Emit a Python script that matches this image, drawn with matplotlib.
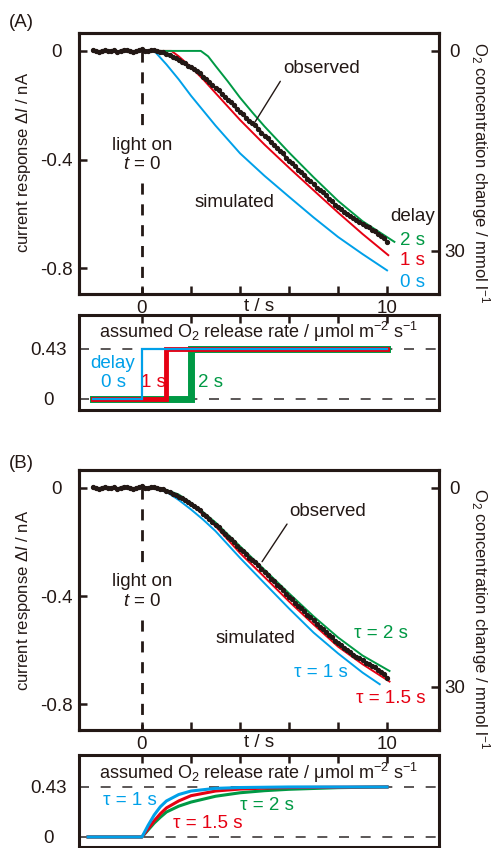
import numpy as np
import matplotlib
matplotlib.use('Agg')
import matplotlib.pyplot as plt

plt.rcParams['font.family'] = ['Liberation Sans', 'DejaVu Sans']
plt.rcParams['mathtext.fontset'] = 'custom'
plt.rcParams['mathtext.rm'] = 'Liberation Sans'
plt.rcParams['mathtext.it'] = 'Liberation Sans:italic'
plt.rcParams['axes.unicode_minus'] = False

DARK = '#231815'
BLUE = '#00a0e9'
RED = '#e60012'
GREEN = '#009944'
FS = 13.5
FSL = 12

###########################################################
# observed current (same record in both panels), nA, every 0.125 s
t_obs = np.arange(-2.0, 10.001, 0.125)
i_obs = [0.002, -0.002, -0.004, 0.001, 0.003, -0.001, 0.000, 0.002,
         -0.003, 0.000, 0.004, 0.002, 0.001, -0.003, -0.002, 0.003,
         0.006, 0.001, -0.001, 0.003, 0.002, -0.001, -0.003, -0.005,
         -0.010, -0.014, -0.022, -0.027, -0.035, -0.039, -0.046, -0.054,
         -0.058, -0.068, -0.075, -0.083, -0.095, -0.103, -0.114, -0.127,
         -0.136, -0.145, -0.158, -0.171, -0.180, -0.188, -0.200, -0.215,
         -0.226, -0.234, -0.246, -0.258, -0.265, -0.274, -0.287, -0.301,
         -0.312, -0.322, -0.336, -0.345, -0.358, -0.368, -0.377, -0.393,
         -0.404, -0.412, -0.425, -0.437, -0.444, -0.456, -0.470, -0.478,
         -0.490, -0.503, -0.513, -0.520, -0.532, -0.545, -0.553, -0.566,
         -0.575, -0.582, -0.593, -0.601, -0.606, -0.617, -0.624, -0.629,
         -0.638, -0.646, -0.650, -0.659, -0.664, -0.675, -0.681, -0.690,
         -0.702]

# (A) simulated, step release with delay
tA_d0 = [0, 0.5, 1.0, 1.5, 2, 3, 4, 5, 6, 7, 8, 9, 10]
iA_d0 = [0, 0, -0.05, -0.105, -0.165, -0.275, -0.377, -0.46, -0.537, -0.613, -0.685, -0.748, -0.808]
tA_d1 = [0, 1.2, 1.5, 2, 2.5, 3, 4, 5, 6, 7, 8, 9, 10.05]
iA_d1 = [0, 0, -0.02, -0.06, -0.105, -0.155, -0.254, -0.345, -0.43, -0.513, -0.595, -0.674, -0.752]
tA_d2 = [0, 2.4, 2.7, 3, 3.5, 4, 4.5, 5, 6, 7, 8, 9, 10.3]
iA_d2 = [0, 0, -0.02, -0.055, -0.112, -0.172, -0.226, -0.278, -0.374, -0.465, -0.552, -0.627, -0.703]

# (A) assumed release rate steps
step_t0 = [-2, 0, 0, 10]
step_t1 = [-2, 1, 1, 10]
step_t2 = [-2, 2, 2, 10]
step_v = [0, 0, 0.43, 0.43]

# (B) simulated, exponential rise of release
tB = [0, 0.5, 1, 1.5, 2, 2.5, 3, 4, 5, 6, 7, 8, 9]
iB_tau1 = [0, -0.003, -0.015, -0.045, -0.08, -0.118, -0.16, -0.259, -0.353, -0.446, -0.535, -0.612, -0.683]
iB_tau15 = [0, -0.002, -0.01, -0.03, -0.06, -0.1, -0.142, -0.241, -0.33, -0.42, -0.505, -0.587, -0.652]
iB_tau2 = [0, -0.001, -0.008, -0.025, -0.055, -0.09, -0.128, -0.216, -0.303, -0.39, -0.475, -0.553, -0.62]
tB_end = [9.7, 10.1, 10.1]
iB_end = [-0.726, -0.716, -0.677]

# (B) assumed release rate
tr_1 = [-2.2, 0, 0.25, 0.5, 0.75, 1, 1.5, 2, 3, 4, 6, 10]
r_tau1 = [0, 0, 0.1, 0.19, 0.26, 0.31, 0.365, 0.395, 0.418, 0.425, 0.43, 0.43]
tr_2 = [-2.2, 0, 0.25, 0.5, 0.75, 1, 1.5, 2, 3, 4, 5, 6, 8, 10]
r_tau15 = [0, 0, 0.07, 0.14, 0.2, 0.25, 0.31, 0.355, 0.395, 0.412, 0.42, 0.425, 0.428, 0.43]
r_tau2 = [0, 0, 0.06, 0.12, 0.17, 0.215, 0.265, 0.3, 0.35, 0.38, 0.398, 0.41, 0.424, 0.43]

xticks = [0, 2, 4, 6, 8, 10]
xticklabels = ['0', '', '', '', '', '10']
###########################################################

fig = plt.figure(figsize=(4.95, 8.48), dpi=100)
L, W = 0.1596, 0.7273
axA = fig.add_axes([L, 0.6533, W, 0.3078])
axAs = fig.add_axes([L, 0.5165, W, 0.112])
axB = fig.add_axes([L, 0.1392, W, 0.3066])
axBs = fig.add_axes([L, 0.0012, W, 0.1085])


def style_main(ax):
    ax.set_xlim(-2.57, 12.12)
    ax.set_ylim(-0.895, 0.066)
    for s in ax.spines.values():
        s.set_linewidth(2.2)
        s.set_color(DARK)
    ax.set_xticks(xticks)
    ax.set_xticklabels(xticklabels)
    ax.set_yticks([0, -0.4, -0.8])
    ax.set_yticklabels(['0', '-0.4', '-0.8'])
    ax.tick_params(direction='in', length=6, width=1.8, color=DARK,
                   labelsize=FS, labelcolor=DARK)
    ax.tick_params(axis='x', pad=4)
    ax.tick_params(axis='y', pad=16.5)
    for lab in ax.get_yticklabels():
        lab.set_horizontalalignment('center')
    ax.text(0.5, -0.047, 't / s', transform=ax.transAxes, ha='center',
            va='center', fontsize=FS, color=DARK)
    # light on marker
    ax.plot([0, 0], [0, -0.29], color=DARK, lw=2, dashes=(4, 3.5))
    ax.plot([0, 0], [-0.487, -0.895], color=DARK, lw=2, dashes=(4, 3.5))
    ax.text(0, -0.347, 'light on', ha='center', va='center', fontsize=FS, color=DARK)
    ax.text(0, -0.42, '$t$ = 0', ha='center', va='center', fontsize=FS, color=DARK)
    axr = ax.twinx()
    axr.set_ylim(0.895 * 40.79, -0.066 * 40.79)
    axr.set_yticks([0, 30])
    axr.set_yticklabels(['0', '30'])
    axr.tick_params(direction='in', length=6, width=1.8, color=DARK,
                    labelsize=FS, labelcolor=DARK, pad=11.5)
    for lab in axr.get_yticklabels():
        lab.set_horizontalalignment('center')
    for s in axr.spines.values():
        s.set_linewidth(2.2)
        s.set_color(DARK)


def style_small(ax, ylim):
    ax.set_xlim(-2.57, 12.12)
    ax.set_ylim(*ylim)
    for s in ax.spines.values():
        s.set_linewidth(2.2)
        s.set_color(DARK)
    ax.set_xticks(xticks)
    ax.tick_params(axis='x', direction='in', length=6, width=1.8, color=DARK,
                   top=True, bottom=False, labeltop=False, labelbottom=False)
    ax.set_yticks([0, 0.43])
    ax.set_yticklabels(['0', '0.43'])
    ax.tick_params(axis='y', length=0, labelsize=FS, labelcolor=DARK, pad=22)
    for lab in ax.get_yticklabels():
        lab.set_horizontalalignment('center')
    for v in (0, 0.43):
        ax.axhline(v, color='#3e3a39', lw=1.2, dashes=(6, 7), zorder=1)


# ---------------- (A) ----------------
style_main(axA)
axA.plot(tA_d0, iA_d0, color=BLUE, lw=1.4)
axA.plot(tA_d1, iA_d1, color=RED, lw=1.4)
axA.plot(tA_d2, iA_d2, color=GREEN, lw=1.4)
axA.plot(t_obs, i_obs, color=DARK, lw=2.0, marker='o', ms=2.8, zorder=5)
axA.annotate('observed', xy=(4.61, -0.262), xytext=(7.31, -0.066),
             ha='center', va='center', fontsize=FS, color=DARK,
             arrowprops=dict(arrowstyle='-', color=DARK, lw=1,
                             relpos=(0.0, 0.0), shrinkA=1, shrinkB=0))
axA.text(3.76, -0.557, 'simulated', ha='center', va='center', fontsize=FS, color=DARK)
axA.text(10.12, -0.608, 'delay', ha='left', va='center', fontsize=FS, color=DARK)
axA.text(10.53, -0.697, '2 s', ha='left', va='center', fontsize=FS, color=GREEN)
axA.text(10.53, -0.771, '1 s', ha='left', va='center', fontsize=FS, color=RED)
axA.text(10.53, -0.852, '0 s', ha='left', va='center', fontsize=FS, color=BLUE)

style_small(axAs, (-0.095, 0.72))
axAs.plot(step_t2, step_v, color=GREEN, lw=5, solid_joinstyle='miter', zorder=3)
axAs.plot(step_t1, step_v, color=RED, lw=3.5, solid_joinstyle='miter', zorder=4)
axAs.plot(step_t0, step_v, color=BLUE, lw=1.6, solid_joinstyle='miter', zorder=5)
axAs.text(0.5, 0.82, 'assumed O$_2$ release rate / \u03bcmol m$^{-2}$ s$^{-1}$',
          transform=axAs.transAxes, ha='center', va='center', fontsize=13, color=DARK)
axAs.text(-1.18, 0.30, 'delay', ha='center', va='center', fontsize=FS, color=BLUE)
axAs.text(-1.18, 0.138, '0 s', ha='center', va='center', fontsize=FS, color=BLUE)
axAs.text(0.45, 0.138, '1 s', ha='center', va='center', fontsize=FS, color=RED)
axAs.text(2.78, 0.138, '2 s', ha='center', va='center', fontsize=FS, color=GREEN)

# ---------------- (B) ----------------
style_main(axB)
axB.plot(tB + [tB_end[0]], iB_tau1 + [iB_end[0]], color=BLUE, lw=1.4)
axB.plot(tB + [tB_end[1]], iB_tau15 + [iB_end[1]], color=RED, lw=1.4)
axB.plot(tB + [tB_end[2]], iB_tau2 + [iB_end[2]], color=GREEN, lw=1.4)
axB.plot(t_obs, i_obs, color=DARK, lw=2.0, marker='o', ms=2.8, zorder=5)
axB.annotate('observed', xy=(4.90, -0.273), xytext=(7.59, -0.088),
             ha='center', va='center', fontsize=FS, color=DARK,
             arrowprops=dict(arrowstyle='-', color=DARK, lw=1,
                             relpos=(0.0, 0.0), shrinkA=1, shrinkB=0))
axB.text(4.61, -0.557, 'simulated', ha='center', va='center', fontsize=FS, color=DARK)
axB.text(9.76, -0.538, '\u03c4 = 2 s', ha='center', va='center', fontsize=FS, color=GREEN)
axB.text(7.31, -0.682, '\u03c4 = 1 s', ha='center', va='center', fontsize=FS, color=BLUE)
axB.text(10.16, -0.778, '\u03c4 = 1.5 s', ha='center', va='center', fontsize=FS, color=RED)

style_small(axBs, (-0.086, 0.705))
axBs.plot(tr_2, r_tau2, color=GREEN, lw=2.2, zorder=3)
axBs.plot(tr_2, r_tau15, color=RED, lw=2.2, zorder=4)
axBs.plot(tr_1, r_tau1, color=BLUE, lw=2.2, zorder=5)
axBs.text(0.5, 0.80, 'assumed O$_2$ release rate / \u03bcmol m$^{-2}$ s$^{-1}$',
          transform=axBs.transAxes, ha='center', va='center', fontsize=13, color=DARK)
axBs.text(-0.49, 0.31, '\u03c4 = 1 s', ha='center', va='center', fontsize=FS, color=BLUE)
axBs.text(2.69, 0.112, '\u03c4 = 1.5 s', ha='center', va='center', fontsize=FS, color=RED)
axBs.text(5.10, 0.267, '\u03c4 = 2 s', ha='center', va='center', fontsize=FS, color=GREEN)

# panel letters and axis titles
fig.text(0.044, 0.974, '(A)', ha='center', va='center', fontsize=FS, color=DARK)
fig.text(0.044, 0.454, '(B)', ha='center', va='center', fontsize=FS, color=DARK)
for yc in (0.808, 0.292):
    fig.text(0.048, yc, 'current response \u0394$I$ / nA', rotation=90,
             ha='center', va='center', fontsize=FSL, color=DARK)
for yc in (0.797, 0.27):
    fig.text(0.97, yc, 'O$_2$ concentration change / mmol l$^{-1}$', rotation=270,
             ha='center', va='center', fontsize=FSL, color=DARK)

plt.savefig('out.png', dpi=100)
